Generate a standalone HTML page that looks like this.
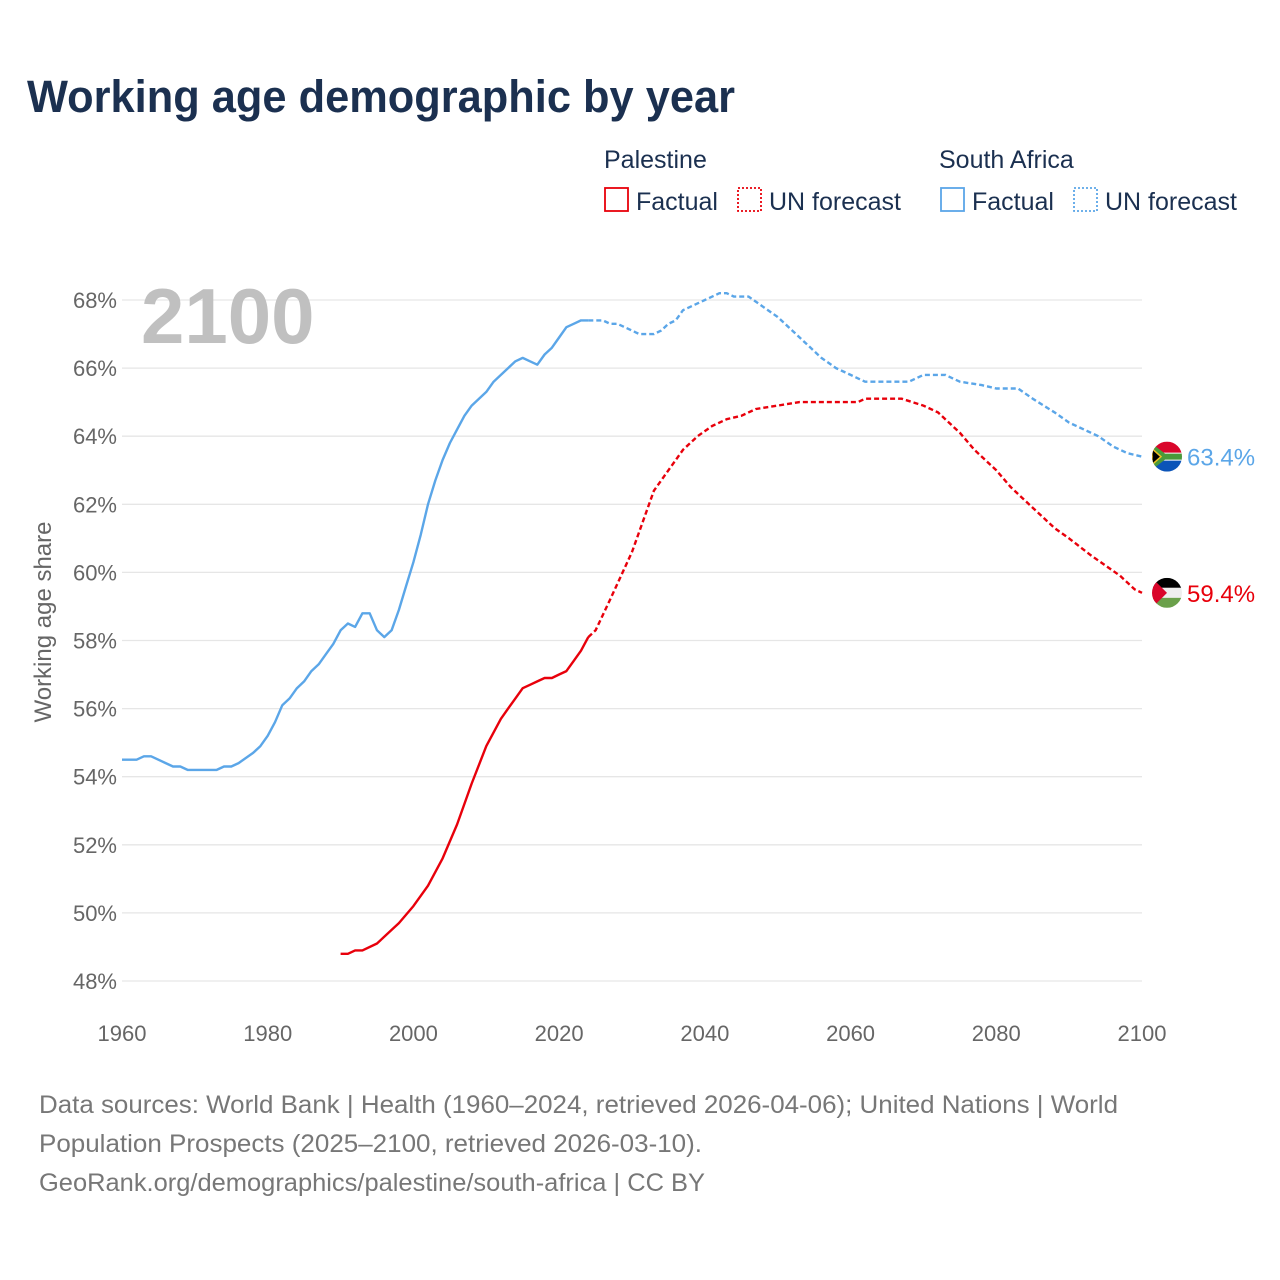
<!DOCTYPE html>
<html><head><meta charset="utf-8"><style>
body{margin:0;background:#fff;font-family:"Liberation Sans",sans-serif;}
#wrap{position:relative;width:1280px;height:1280px;overflow:hidden}
</style></head><body>
<div id="wrap">
<svg id="chart" width="1280" height="1280" style="position:absolute;left:0;top:0"></svg>
</div>
<script>
const yTicks=[48,50,52,54,56,58,60,62,64,66,68];
const xTicks=[1960,1980,2000,2020,2040,2060,2080,2100];
const zaFactYears=[1960,1962,1963,1964,1966,1967,1968,1969,1973,1974,1975,1976,1978,1979,1980,1981,1982,1983,1984,1985,1986,1987,1988,1989,1990,1991,1992,1993,1994,1995,1996,1997,1998,1999,2000,2001,2002,2003,2004,2005,2006,2007,2008,2009,2010,2011,2012,2013,2014,2015,2016,2017,2018,2019,2020,2021,2022,2023,2024];
const zaFactVals=[54.5,54.5,54.6,54.6,54.4,54.3,54.3,54.2,54.2,54.3,54.3,54.4,54.7,54.9,55.2,55.6,56.1,56.3,56.6,56.8,57.1,57.3,57.6,57.9,58.3,58.5,58.4,58.8,58.8,58.3,58.1,58.3,58.9,59.6,60.3,61.1,62.0,62.7,63.3,63.8,64.2,64.6,64.9,65.1,65.3,65.6,65.8,66.0,66.2,66.3,66.2,66.1,66.4,66.6,66.9,67.2,67.3,67.4,67.4];
const zaFcYears=[2024,2026,2027,2028,2029,2030,2031,2033,2034,2035,2036,2037,2038,2040,2042,2043,2044,2046,2048,2050,2052,2054,2056,2058,2060,2062,2068,2070,2073,2075,2078,2080,2083,2085,2088,2090,2094,2096,2098,2100];
const zaFcVals=[67.4,67.4,67.3,67.3,67.2,67.1,67.0,67.0,67.1,67.3,67.4,67.7,67.8,68.0,68.2,68.2,68.1,68.1,67.8,67.5,67.1,66.7,66.3,66.0,65.8,65.6,65.6,65.8,65.8,65.6,65.5,65.4,65.4,65.1,64.7,64.4,64.0,63.7,63.5,63.4];
const psFactYears=[1990,1991,1992,1993,1995,1997,1998,2000,2002,2004,2006,2008,2010,2011,2012,2013,2014,2015,2016,2017,2018,2019,2020,2021,2022,2023,2024];
const psFactVals=[48.8,48.8,48.9,48.9,49.1,49.5,49.7,50.2,50.8,51.6,52.6,53.8,54.9,55.3,55.7,56.0,56.3,56.6,56.7,56.8,56.9,56.9,57.0,57.1,57.4,57.7,58.1];
const psFcYears=[2024,2025,2027,2030,2033,2035,2037,2039,2041,2043,2045,2047,2050,2053,2061,2062,2067,2070,2072,2075,2077,2080,2082,2085,2088,2090,2093,2095,2097,2099,2100];
const psFcVals=[58.1,58.3,59.2,60.6,62.4,63.0,63.6,64.0,64.3,64.5,64.6,64.8,64.9,65.0,65.0,65.1,65.1,64.9,64.7,64.1,63.6,63.0,62.5,61.9,61.3,61.0,60.5,60.2,59.9,59.5,59.4];

const NS="http://www.w3.org/2000/svg";
const svg=document.getElementById('chart');
const X0=122,X1=1142,Y0=300,Y1=981;
const xs=y=>X0+(y-1960)/(140)*(X1-X0);
const ys=v=>Y0+(68-v)/20*(Y1-Y0);
function el(tag,attrs,parent){const e=document.createElementNS(NS,tag);for(const k in attrs)e.setAttribute(k,attrs[k]);(parent||svg).appendChild(e);return e;}
function txt(s,attrs){const t=el('text',attrs);t.textContent=s;return t;}

let t;
t=txt('Working age demographic by year',{x:27,y:112,'font-size':45,'font-weight':'bold',fill:'#1b3050',textLength:708,lengthAdjust:'spacingAndGlyphs'});


const lg=el('g',{});

function legText(s,x,y){const e=el('text',{x:x,y:y,'font-size':25,fill:'#1b3050'},lg);e.textContent=s;return e;}
legText('Palestine',604,168);legText('South Africa',939,168);
const items=[[605,'#e8000b','none','Factual','legend-palestine-factual'],[738,'#e8000b','2 2','UN forecast','legend-palestine-forecast'],[941,'#5ba6e8','none','Factual','legend-south-africa-factual'],[1074,'#5ba6e8','2 2','UN forecast','legend-south-africa-forecast']];
items.forEach(it=>{const g=el('g',{},lg);

const r=el('rect',{x:it[0],y:188,width:23,height:23,fill:'none',stroke:it[1],'stroke-width':1.8},g);if(it[2]!=='none')r.setAttribute('stroke-dasharray',it[2]);
const e=el('text',{x:it[0]+31,y:210,'font-size':25,fill:'#1b3050'},g);e.textContent=it[3];});

yTicks.forEach(v=>{const l=el('line',{x1:X0,x2:X1,y1:ys(v),y2:ys(v),stroke:'#e6e6e6','stroke-width':1.3});

const e=txt(v+'%',{x:117,y:ys(v)+8,'font-size':22,fill:'#666','text-anchor':'end'});
});
xTicks.forEach(v=>{const e=txt(String(v),{x:xs(v),y:1041,'font-size':22,fill:'#666','text-anchor':'middle'});
});
t=txt('Working age share',{x:0,y:0,'font-size':24,fill:'#666','text-anchor':'middle',transform:'translate(51,622) rotate(-90)'});

t=txt('2100',{x:141,y:343,'font-size':78,'font-weight':'bold',fill:'#c0c0c0'});


function line(yrs,vals,color,dash,name){const d=yrs.map((y,i)=>(i?'L':'M')+xs(y).toFixed(1)+','+ys(vals[i]).toFixed(1)).join('');
const p=el('path',{d:d,fill:'none',stroke:color,'stroke-width':2.4,'stroke-linejoin':'round'});if(dash)p.setAttribute('stroke-dasharray',dash);
}
line(zaFactYears,zaFactVals,'#5ba6e8',null,'south-africa-factual-line');
line(zaFcYears,zaFcVals,'#5ba6e8','5 3','south-africa-forecast-line');
line(psFactYears,psFactVals,'#e8000b',null,'palestine-factual-line');
line(psFcYears,psFcVals,'#e8000b','5 3','palestine-forecast-line');

function flag(cx,cy,kind,name){const g=el('g',{});
const id='c'+kind;const cp=el('clipPath',{id:id},g);el('circle',{cx:cx,cy:cy,r:15},cp);
const f=el('g',{'clip-path':'url(#'+id+')'},g);
if(kind==='ps'){el('rect',{x:cx-15,y:cy-15,width:30,height:10,fill:'#000'},f);el('rect',{x:cx-15,y:cy-5,width:30,height:10,fill:'#eee'},f);el('rect',{x:cx-15,y:cy+5,width:30,height:10,fill:'#6aa04a'},f);el('polygon',{points:(cx-15)+','+(cy-15)+' '+(cx)+','+cy+' '+(cx-15)+','+(cy+15),fill:'#d9062b'},f);}
else{el('rect',{x:cx-15,y:cy-15,width:30,height:15,fill:'#d9062b'},f);el('rect',{x:cx-15,y:cy,width:30,height:15,fill:'#0b54b8'},f);el('rect',{x:cx-15,y:cy-4,width:30,height:8,fill:'#fff'},f);el('polygon',{points:(cx-15)+','+(cy-13)+' '+(cx-2)+','+(cy-3)+' '+(cx+15)+','+(cy-3)+' '+(cx+15)+','+(cy+3)+' '+(cx-2)+','+(cy+3)+' '+(cx-15)+','+(cy+13),fill:'#4a9a3a'},f);el('polygon',{points:(cx-15)+','+(cy-8)+' '+(cx-6)+','+cy+' '+(cx-15)+','+(cy+8),fill:'#000',stroke:'#f0c020','stroke-width':1.5},f);}}
const zaLast=zaFcVals[zaFcVals.length-1],psLast=psFcVals[psFcVals.length-1];
flag(1167,ys(zaLast),'za','south-africa-flag');flag(1167,ys(psLast),'ps','palestine-flag');
t=txt(zaLast.toFixed(1)+'%',{x:1187,y:ys(zaLast)+9,'font-size':24,fill:'#5ba6e8'});
t=txt(psLast.toFixed(1)+'%',{x:1187,y:ys(psLast)+9,'font-size':24,fill:'#e8000b'});

const foot=['Data sources: World Bank | Health (1960–2024, retrieved 2026-04-06); United Nations | World','Population Prospects (2025–2100, retrieved 2026-03-10).','GeoRank.org/demographics/palestine/south-africa | CC BY'];
const footW=[1079,663,666];
foot.forEach((s,i)=>{
const e=txt(s,{x:39,y:1113+i*39,'font-size':25,fill:'#777',textLength:footW[i],lengthAdjust:'spacingAndGlyphs'});});
</script>
</body></html>
